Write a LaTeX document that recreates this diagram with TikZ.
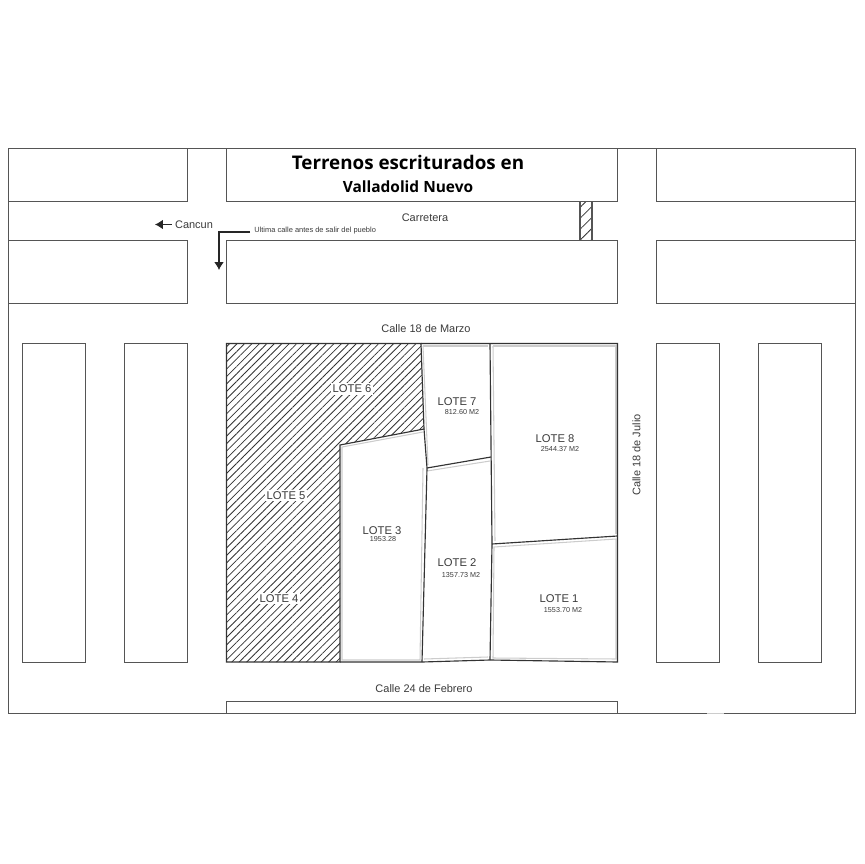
\documentclass[tikz,border=0pt]{standalone}
\usepackage{fontspec}
\setmainfont{Liberation Sans}
\newfontfamily\titlefont{Open Sans}
\usetikzlibrary{arrows.meta}
\usetikzlibrary{patterns.meta}
\definecolor{linegray}{HTML}{555555}
\definecolor{textgray}{HTML}{3A3A3A}
\tikzset{
  block/.style={draw=linegray,line width=0.65pt},
  boundary/.style={draw=black!80,line width=0.65pt},
  inner/.style={draw=black!20,line width=0.6pt},
  hatched/.style={pattern={Lines[angle=45,distance=3pt,line width=0.45pt]},pattern color=black!80},
  widehatched/.style={pattern={Lines[angle=45,distance=4.4pt,line width=0.45pt]},pattern color=black!80},
  street/.style={font=\fontsize{6.25}{8}\selectfont,text=textgray,inner sep=0pt},
  lote/.style={font=\fontsize{6.4}{8}\selectfont,text=textgray,inner sep=1pt},
  loteblank/.style={lote,fill=white},
  area/.style={font=\fontsize{4.1}{5}\selectfont,text=textgray,inner sep=0pt},
  pointer/.style={draw=black!85,line width=0.6pt,-{Latex[length=4.5pt,width=5.5pt]}}
}
\begin{document}
\begin{tikzpicture}[x=0.02cm,y=-0.02cm]
 \useasboundingbox (0,0) rectangle (864,864);
 \draw[block](8.5,148.5) rectangle (855.5,713.5);
 \draw[inner](707,713.5)--(724,713.5);
 \draw[block](8.5,148.5) rectangle (187.5,201.5);
 \draw[block](226.5,148.5) rectangle (617.5,201.5);
 \draw[block](656.5,148.5) rectangle (855.5,201.5);
 \draw[block](8.5,240.5) rectangle (187.5,303.5);
 \draw[block](226.5,240.5) rectangle (617.5,303.5);
 \draw[block](656.5,240.5) rectangle (855.5,303.5);
 \draw[block](22.5,343.5) rectangle (85.5,662.5);
 \draw[block](124.5,343.5) rectangle (187.5,662.5);
 \draw[block](656.5,343.5) rectangle (719.5,662.5);
 \draw[block](758.5,343.5) rectangle (821.5,662.5);
 \draw[block](226.5,701.5) rectangle (617.5,713.5);
 \draw[block,widehatched](580,201.5) rectangle (592,240.5);
 \draw[boundary,hatched](226.5,343.5)--(421,343.5)--(424,429)--(340,445)--(340,662)--(226.5,662)--cycle;
 \draw[inner](423,432)--(342,447)--(342,660)--(420,660)--(423,468);
 \draw[inner](427,471)--(490,461);
 \draw[inner](423,346)--(488,346);
 \draw[inner](493,346)--(616,346)--(616,534);
 \draw[inner](493,346)--(495,541);
 \draw[inner](423,346)--(428,465);
 \draw[inner](494,547)--(616,539)--(616,659)--(493,658)--cycle;
 \draw[inner](424,659)--(488,657);
 \draw[boundary](421,343.5)--(617.5,343.5)--(617.5,662)--(490,660)--(422,662)--(340,662);
 \draw[boundary](424,429)--(427,468)--(422,662);
 \draw[boundary](427,468)--(491,457);
 \draw[boundary](490,343.5)--(492,544)--(490,660);
 \draw[boundary](492,544)--(617.5,536);
 \node[font=\titlefont\bfseries\fontsize{10.7}{13}\selectfont,inner sep=0pt] (title) at (408,162) {Terrenos escriturados en};
 \node[font=\titlefont\bfseries\fontsize{8.8}{11}\selectfont,inner sep=0pt] (subtitle) at (408,187) {Valladolid Nuevo};
 \node[street] (carretera) at (425,218) {Carretera};
 \node[street] (cancun) at (194,224.5) {Cancun};
 \node[street,font=\fontsize{4.25}{5}\selectfont,anchor=west] (ultima) at (254,231) {Ultima calle antes de salir del pueblo};
 \node[street] (marzo) at (426,329) {Calle 18 de Marzo};
 \node[street] (febrero) at (424,689) {Calle 24 de Febrero};
 \node[street,rotate=90] (julio) at (636.5,455) {Calle 18 de Julio};
 \coordinate (cancunend) at (155,224.5);
 \coordinate (ultimabend) at (219,232);
 \coordinate (ultimaend) at (219,270);
 \draw[pointer](cancun.west)++(-3,0)--(cancunend);
 \draw[pointer](ultima.west)++(-4,1)--(ultimabend)--(ultimaend);
 \node[loteblank] (lote6) at (352,389) {LOTE 6};
 \node[loteblank] (lote5) at (286,495.5) {LOTE 5};
 \node[loteblank] (lote4) at (279,598.5) {LOTE 4};
 \node[lote] (lote3) at (382,530.5) {LOTE 3};
 \node[area] (area3) at (383,539.5) {1953.28};
 \node[lote] (lote2) at (457,562.5) {LOTE 2};
 \node[area] (area2) at (461,575.5) {1357.73 M2};
 \node[lote] (lote1) at (559,598.5) {LOTE 1};
 \node[area] (area1) at (563,610) {1553.70 M2};
 \node[lote] (lote7) at (457,401.5) {LOTE 7};
 \node[area] (area7) at (462,412) {812.60 M2};
 \node[lote] (lote8) at (555,438.5) {LOTE 8};
 \node[area] (area8) at (560,449.5) {2544.37 M2};
\end{tikzpicture}
\end{document}
